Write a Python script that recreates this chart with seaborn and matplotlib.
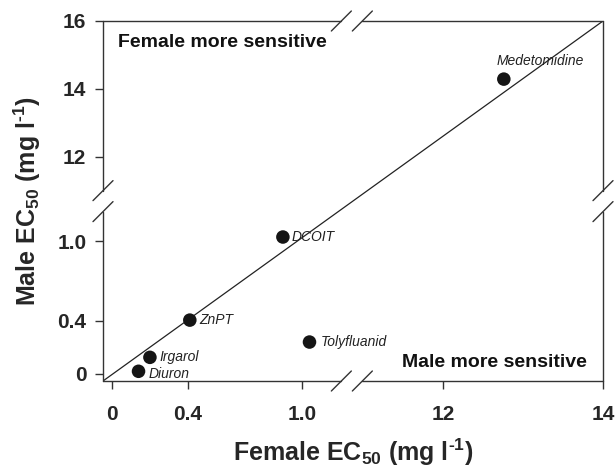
import numpy as np
import pandas as pd
import matplotlib
matplotlib.use("Agg")
import matplotlib.pyplot as plt
import seaborn as sns

# data
compounds = ["Diuron", "Irgarol", "ZnPT", "DCOIT", "Tolyfluanid", "Medetomidine"]
female_ec50 = [0.14, 0.20, 0.41, 0.90, 1.04, 12.76]
male_ec50 = [0.02, 0.125, 0.405, 1.03, 0.24, 14.29]

x_ticks = [0, 0.4, 1.0, 12, 14]
y_ticks = [0, 0.4, 1.0, 12, 14, 16]
x_tick_labels = ["0", "0.4", "1.0", "12", "14"]
y_tick_labels = ["0", "0.4", "1.0", "12", "14", "16"]

# broken axes: lower segment / upper segment, joined at the break
XB_LO, XB_HI = 1.263, 10.86
YB_LO, YB_HI = 1.30, 10.70
X_K_LO, X_K_HI = 190.0, 80.0
Y_K_LO, Y_K_HI = 133.0, 34.0


def make_scale(b_lo, b_hi, k_lo, k_hi):
    def fwd(v):
        v = np.asarray(v, dtype=float)
        return np.where(v <= b_lo, k_lo * v, k_lo * b_lo + k_hi * (v - b_hi))

    def inv(u):
        u = np.asarray(u, dtype=float)
        return np.where(u <= k_lo * b_lo, u / k_lo, b_hi + (u - k_lo * b_lo) / k_hi)

    return fwd, inv


fx, ix = make_scale(XB_LO, XB_HI, X_K_LO, X_K_HI)
fy, iy = make_scale(YB_LO, YB_HI, Y_K_LO, Y_K_HI)

df = pd.DataFrame({"compound": compounds, "female": female_ec50, "male": male_ec50})

sns.set_theme(style="white")
plt.rcParams["font.family"] = ["Liberation Sans", "DejaVu Sans"]
plt.rcParams["mathtext.fontset"] = "custom"
plt.rcParams["mathtext.rm"] = "Liberation Sans:bold"
plt.rcParams["mathtext.bf"] = "Liberation Sans:bold"

fig = plt.figure(figsize=(6.16, 4.70), dpi=100)
ax = fig.add_axes([103 / 616, 1 - 381 / 470, 500 / 616, 360 / 470])
ax.set_xscale("function", functions=(fx, ix))
ax.set_yscale("function", functions=(fy, iy))
xmin, xmax = -0.047, 14
ymin, ymax = -0.053, 16
ax.set_xlim(xmin, xmax)
ax.set_ylim(ymin, ymax)

sns.scatterplot(data=df, x="female", y="male", s=95, color="#151515",
                edgecolor="none", ax=ax, zorder=3, legend=False)

# 1:1 line corner to corner
ax.plot([0, 1], [0, 1], transform=ax.transAxes, color="#222222", lw=0.9, zorder=2)

offsets = {
    "Diuron": (7, -2, "left", "center"),
    "Irgarol": (7, 0, "left", "center"),
    "ZnPT": (7, 0, "left", "center"),
    "DCOIT": (6, 0, "left", "center"),
    "Tolyfluanid": (8, 0, "left", "center"),
    "Medetomidine": (-5, 8, "left", "bottom"),
}
for name, xv, yv in zip(compounds, female_ec50, male_ec50):
    dx, dy, ha, va = offsets[name]
    ax.annotate(name, (xv, yv), textcoords="offset points", xytext=(dx, dy),
                ha=ha, va=va, fontsize=10, fontstyle="italic", color="#222222")

ax.text(0.03, 0.94, "Female more sensitive", transform=ax.transAxes,
        fontsize=14, fontweight="bold", ha="left", va="center", color="#111111")
ax.text(0.968, 0.052, "Male more sensitive", transform=ax.transAxes,
        fontsize=14, fontweight="bold", ha="right", va="center", color="#111111")

ax.set_xticks(x_ticks)
ax.set_xticklabels(x_tick_labels)
ax.set_yticks(y_ticks)
ax.set_yticklabels(y_tick_labels)
ax.minorticks_off()
ax.tick_params(axis="both", direction="out", length=6, width=1, color="#333333",
               labelsize=15, pad=6, bottom=True, left=True)
for lab in ax.get_xticklabels() + ax.get_yticklabels():
    lab.set_fontweight("bold")
ax.tick_params(axis="x", pad=11)

ax.set_xlabel("Female EC$_{50}$ (mg l$^{\u20101}$)", fontsize=18, fontweight="bold", labelpad=9)
ax.set_ylabel("Male EC$_{50}$ (mg l$^{\u20101}$)", fontsize=18, fontweight="bold", labelpad=10)

# spines drawn by hand, with gaps at the breaks
for sp in ax.spines.values():
    sp.set_visible(False)

xfrac = (fx(XB_LO) - fx(xmin)) / (fx(xmax) - fx(xmin))
yfrac = (fy(YB_LO) - fy(ymin)) / (fy(ymax) - fy(ymin))
gx, gy = 10.5 / 500, 10.5 / 360
sx, sy = 10 / 500, 10 / 360
line_kw = dict(transform=ax.transAxes, color="#333333", lw=1.0, clip_on=False, zorder=4)

for yy in (0, 1):
    ax.plot([0, xfrac - gx], [yy, yy], **line_kw)
    ax.plot([xfrac + gx, 1], [yy, yy], **line_kw)
    for cx in (xfrac - gx, xfrac + gx):
        ax.plot([cx - sx, cx + sx], [yy - sy, yy + sy], **line_kw)
for xx in (0, 1):
    ax.plot([xx, xx], [0, yfrac - gy], **line_kw)
    ax.plot([xx, xx], [yfrac + gy, 1], **line_kw)
    for cy in (yfrac - gy, yfrac + gy):
        ax.plot([xx - sx, xx + sx], [cy - sy, cy + sy], **line_kw)

fig.savefig("out.png", dpi=100)
plt.close(fig)
